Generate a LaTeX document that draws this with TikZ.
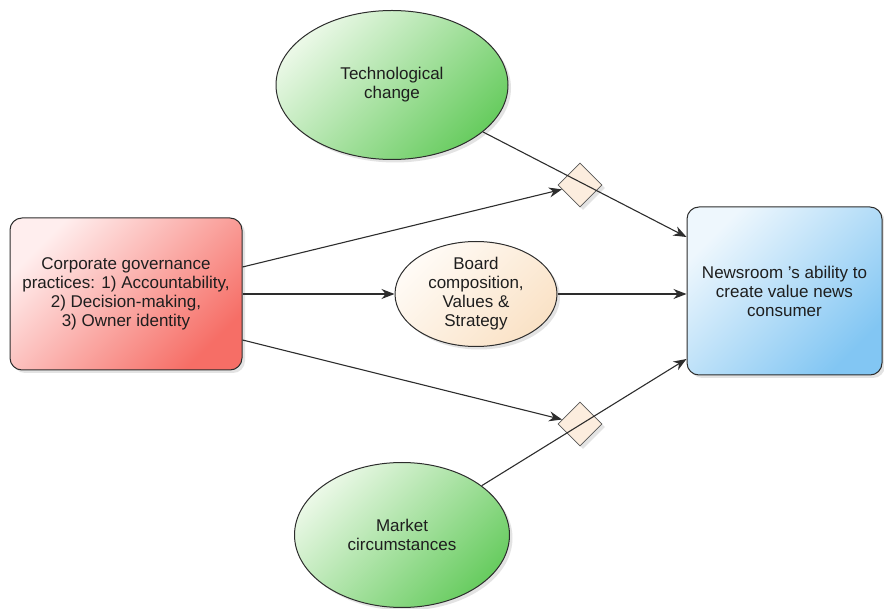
\documentclass[tikz,border=0pt]{standalone}
\usepackage{fontspec}
\setmainfont{Liberation Sans}
\usetikzlibrary{shapes.geometric,arrows.meta,shadows}
\definecolor{redA}{RGB}{255,238,238}
\definecolor{redB}{RGB}{246,110,102}
\definecolor{blueA}{RGB}{238,247,253}
\definecolor{blueB}{RGB}{130,198,243}
\definecolor{greenA}{RGB}{234,248,230}
\definecolor{greenB}{RGB}{104,204,96}
\definecolor{peachA}{RGB}{255,251,246}
\definecolor{peachB}{RGB}{250,226,198}
\definecolor{diamfill}{RGB}{252,237,222}
\definecolor{edgecol}{RGB}{45,45,45}
\definecolor{txtcol}{RGB}{30,30,30}
\tikzset{
  shadowed/.style={drop shadow={shadow xshift=3pt, shadow yshift=-3pt, opacity=0.18, fill=black!60}},
  txt/.style={font=\fontsize{17}{19}\selectfont, align=center, text=txtcol},
  boxnode/.style={draw=edgecol, line width=1pt, rounded corners=12pt, txt, inner sep=0pt, shadowed},
  ellnode/.style={ellipse, draw=edgecol, line width=1pt, txt, inner sep=0pt, shadowed},
  greenell/.style={ellnode, left color=greenA, right color=greenB, shading angle=45},
  diam/.style={diamond, draw=edgecol!80, line width=0.8pt, fill=diamfill, minimum width=44pt, minimum height=44pt, inner sep=0pt, shadowed},
  arr/.style={draw=edgecol, line width=1.1pt, -{Stealth[length=13pt,width=10pt]}},
  plainline/.style={draw=edgecol, line width=1.1pt}
}
\begin{document}
\begin{tikzpicture}[x=1pt,y=-1pt]
\useasboundingbox (0,0) rectangle (884,609);
% nodes
\node[boxnode, minimum width=232pt, minimum height=152pt, left color=redA, right color=redB, shading angle=45] (corp) at (126,294)
  {Corporate governance\\practices: 1) Accountability,\\2) Decision-making,\\3) Owner identity};
\node[boxnode, minimum width=195pt, minimum height=168pt, left color=blueA, right color=blueB, shading angle=45] (news) at (784.5,291)
  {Newsroom 's ability to\\create value news\\consumer};
\node[greenell, minimum width=232pt, minimum height=149pt] (tech) at (392,85) {Technological\\change};
\node[greenell, minimum width=215pt, minimum height=145pt] (market) at (402,535) {Market\\circumstances};
\node[ellnode, minimum width=162pt, minimum height=105pt, left color=peachA, right color=peachB, shading angle=45] (board) at (476,294)
  {Board\\composition,\\Values \&\\Strategy};
\node[diam] (d1) at (580,185) {};
\node[diam] (d2) at (580,424) {};
% connectors
\draw[arr] ([yshift=27pt]corp.east) -- (d1);
\draw[arr] (corp.east) -- (board.west);
\draw[arr] ([yshift=-46pt]corp.east) -- (d2);
\draw[arr] (board.east) -- (board.east -| news.west);
\draw[arr] (tech) -- ([yshift=54pt]news.west);
\draw[arr] (market) -- ([yshift=-68pt]news.west);
\end{tikzpicture}
\end{document}
